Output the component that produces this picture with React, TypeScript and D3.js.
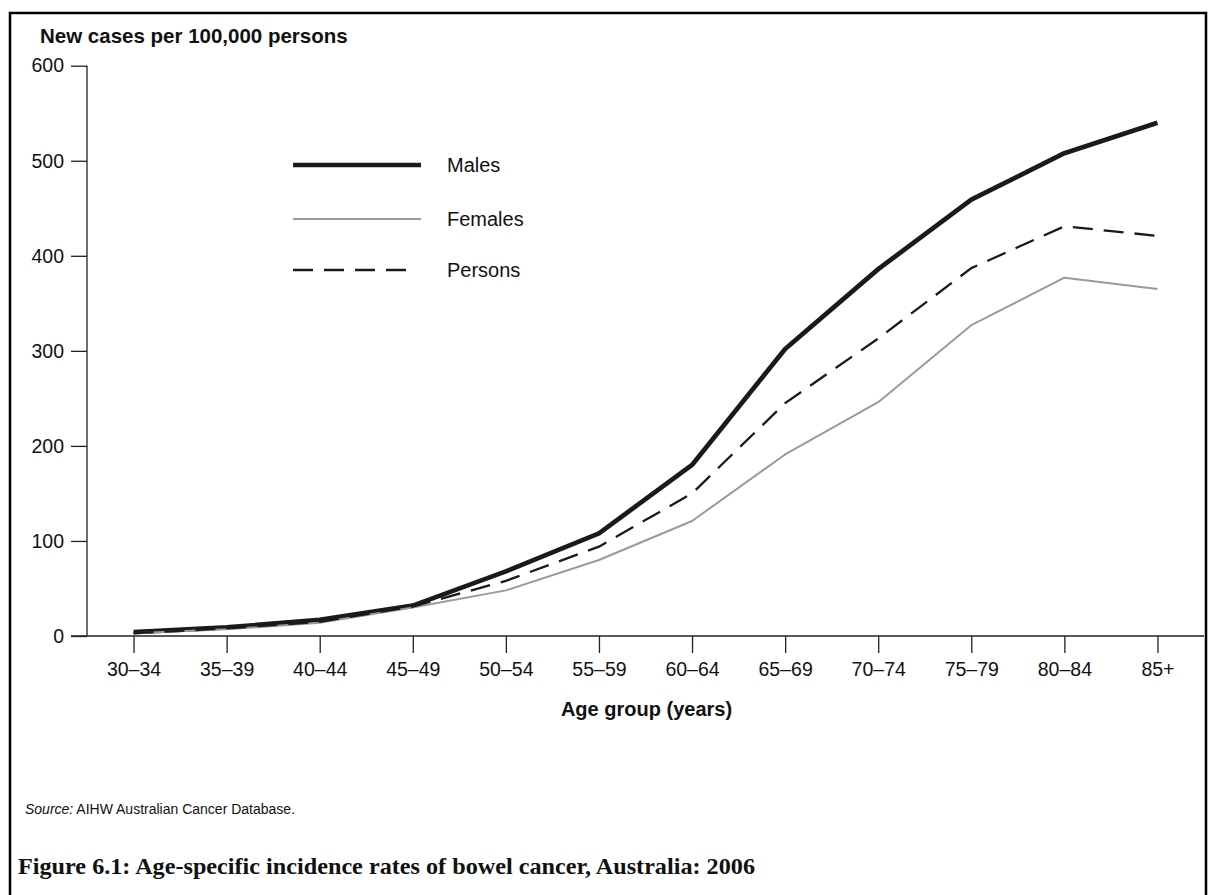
import React, { useEffect, useRef } from "react";
import * as d3 from "d3";

const categories = ["30–34", "35–39", "40–44", "45–49", "50–54", "55–59", "60–64", "65–69", "70–74", "75–79", "80–84", "85+"];
const males = [4, 9, 17, 32, 68, 108, 180, 302, 386, 459, 508, 540];
const females = [3, 7, 14, 30, 48, 80, 121, 191, 246, 327, 377, 365];
const persons = [3, 8, 15, 31, 58, 94, 150, 245, 313, 387, 431, 421];
const yTicks = [0, 100, 200, 300, 400, 500, 600];

const seriesList = [
  { name: "Males", values: males, color: "#1a1a1a", width: 4.7, dash: null as string | null },
  { name: "Females", values: females, color: "#9a9a9a", width: 2, dash: null as string | null },
  { name: "Persons", values: persons, color: "#1a1a1a", width: 2.3, dash: "20,11" },
];

const W = 1208;
const H = 895;
const SANS = "'Liberation Sans', Arial, sans-serif";

export default function App() {
  const ref = useRef<SVGSVGElement | null>(null);

  useEffect(() => {
    const svg = d3.select(ref.current);
    svg.selectAll("*").remove();

    const x0 = 87, x1 = 1204, yTop = 65.7, yBot = 636;
    const x = d3.scalePoint<string>().domain(categories).range([x0, x1]).padding(0.5);
    const y = d3.scaleLinear().domain([0, 600]).range([yBot, yTop]);

    // frame
    svg.append("rect").attr("x", 10).attr("y", 13).attr("width", 1196).attr("height", 920)
      .attr("fill", "none").attr("stroke", "#000").attr("stroke-width", 2.5);

    // y axis
    const gy = svg.append("g").attr("transform", `translate(${x0},0)`)
      .call(d3.axisLeft(y).tickValues(yTicks).tickSize(16).tickPadding(7).tickFormat(d3.format("d")));
    gy.select(".domain").attr("stroke", "#222").attr("stroke-width", 1.3).attr("d", `M0,${yTop}V${yBot}`);
    gy.selectAll(".tick line").attr("stroke", "#222").attr("stroke-width", 1.3);
    gy.selectAll(".tick text").attr("font-family", SANS).attr("font-size", 19.5).attr("fill", "#111");

    // x axis
    const gx = svg.append("g").attr("transform", `translate(0,${yBot})`)
      .call(d3.axisBottom(x).tickSize(17).tickPadding(9));
    gx.select(".domain").attr("stroke", "#222").attr("stroke-width", 1.3).attr("d", `M${x0 - 16},0H${x1}`);
    gx.selectAll(".tick line").attr("stroke", "#222").attr("stroke-width", 1.3);
    gx.selectAll(".tick text").attr("font-family", SANS).attr("font-size", 19.5).attr("fill", "#111");

    // lines
    const line = d3.line<number>().x((_, i) => x(categories[i]) as number).y((d) => y(d));
    seriesList.forEach((s) => {
      const p = svg.append("path").datum(s.values).attr("d", line)
        .attr("fill", "none").attr("stroke", s.color).attr("stroke-width", s.width)
        .attr("stroke-linejoin", "round");
      if (s.dash) p.attr("stroke-dasharray", s.dash);
    });

    // legend
    const legY = [165, 219, 270];
    seriesList.forEach((s, i) => {
      const l = svg.append("line").attr("x1", 293).attr("x2", s.dash ? 414 : 421)
        .attr("y1", legY[i]).attr("y2", legY[i])
        .attr("stroke", s.color).attr("stroke-width", s.width);
      if (s.dash) l.attr("stroke-dasharray", s.dash);
      svg.append("text").attr("x", 447).attr("y", legY[i]).attr("dy", "0.36em")
        .attr("font-family", SANS).attr("font-size", 20).attr("fill", "#111").text(s.name);
    });

    // axis titles
    svg.append("text").attr("x", 40).attr("y", 43).attr("font-family", SANS).attr("font-weight", "bold")
      .attr("font-size", 20.5).attr("fill", "#111").text("New cases per 100,000 persons");
    svg.append("text").attr("x", (x0 + x1) / 2 + 1).attr("y", 716).attr("text-anchor", "middle")
      .attr("font-family", SANS).attr("font-weight", "bold").attr("font-size", 20).attr("fill", "#111")
      .text("Age group (years)");

    // source
    const src = svg.append("text").attr("x", 25).attr("y", 814).attr("font-family", SANS)
      .attr("font-size", 14).attr("fill", "#111");
    src.append("tspan").attr("font-style", "italic").text("Source:");
    src.append("tspan").text(" AIHW Australian Cancer Database.");

    // figure title
    svg.append("text").attr("x", 18).attr("y", 874)
      .attr("font-family", "'Liberation Serif', 'DejaVu Serif', serif").attr("font-weight", "bold")
      .attr("font-size", 23.5).attr("fill", "#111")
      .attr("textLength", 737).attr("lengthAdjust", "spacingAndGlyphs")
      .text("Figure 6.1: Age-specific incidence rates of bowel cancer, Australia: 2006");
  }, []);

  return (
    <div style={{ position: "absolute", left: 0, top: 0 }}>
      <svg ref={ref} width={W} height={H} style={{ display: "block", background: "#fff" }} />
    </div>
  );
}
